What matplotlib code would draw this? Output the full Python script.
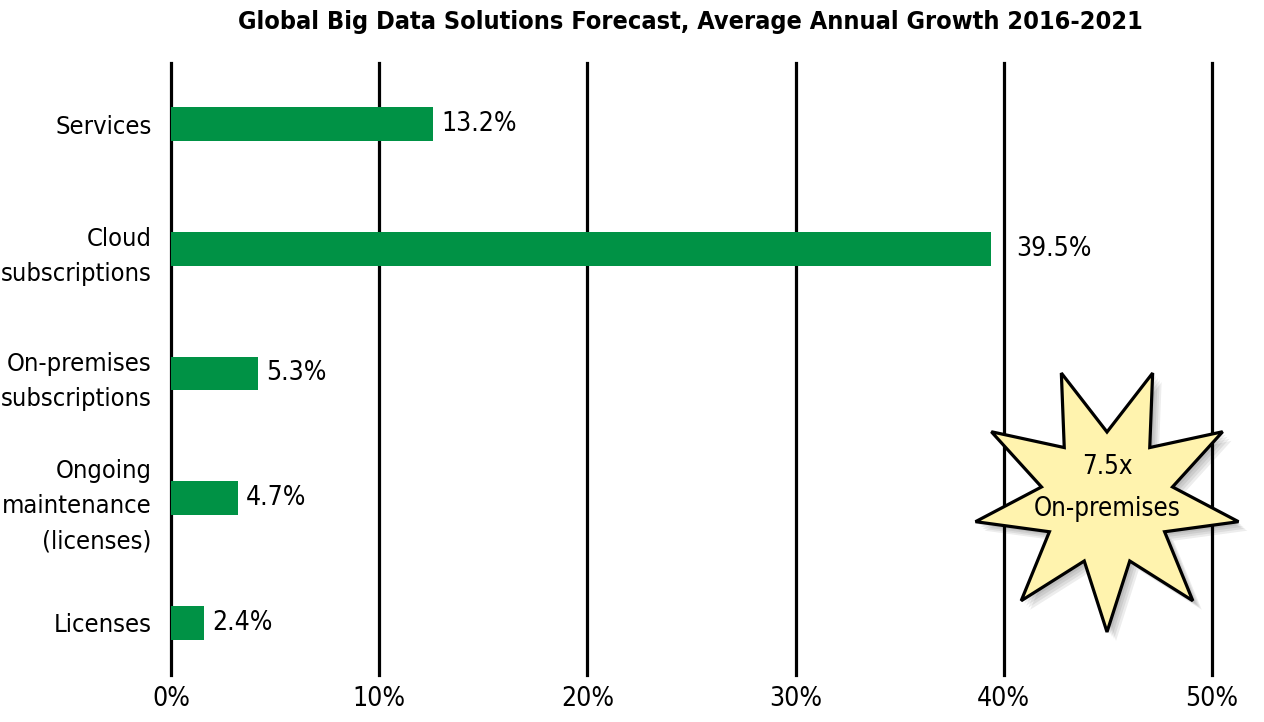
import numpy as np
import matplotlib
matplotlib.use("Agg")
import matplotlib.pyplot as plt
from matplotlib.patches import Polygon

plt.rcParams['font.family'] = ['DejaVu Sans']
plt.rcParams['font.stretch'] = 'condensed'

# data (bar lengths as drawn, labels as printed)
categories = ["Services", "Cloud\nsubscriptions", "On-premises\nsubscriptions",
              "Ongoing\nmaintenance\n(licenses)", "Licenses"]
bar_values = [12.6, 39.4, 4.2, 3.2, 1.6]
value_labels = ["13.2%", "39.5%", "5.3%", "4.7%", "2.4%"]
label_gaps = [8, 25, 8, 8, 8]  # px between bar end and label
xticks = [0, 10, 20, 30, 40, 50]
xtick_labels = ["0%", "10%", "20%", "30%", "40%", "50%"]
callout = "7.5x\nOn-premises"

W, H = 1264, 722
fig = plt.figure(figsize=(W / 100, H / 100), dpi=100)
ax = fig.add_axes([171 / W, 47 / H, 1041 / W, 612 / H])

green = "#009245"
y = np.arange(len(categories))
ax.barh(y, bar_values, height=0.27, color=green, zorder=2)

for v in xticks:
    ax.axvline(v, color="black", lw=2.3, zorder=1, clip_on=False)

for yi, v, lab, gap in zip(y, bar_values, value_labels, label_gaps):
    ax.annotate(lab, (v, yi), xytext=(gap * 0.72, 0), textcoords="offset points",
                ha="left", va="center", fontsize=19)

ax.set_xlim(0, 50)
ax.set_ylim(4.417, -0.489)
ax.set_xticks(xticks)
ax.set_xticklabels(xtick_labels, fontsize=19)
ax.set_yticks(y)
ax.set_yticklabels(categories, fontsize=18.3, linespacing=1.58)
ax.tick_params(length=0)
ax.tick_params(axis="y", pad=14)
ax.tick_params(axis="x", pad=8)
for s in ax.spines.values():
    s.set_visible(False)

fig.text(690 / W, 1 - 22 / H, "Global Big Data Solutions Forecast, Average Annual Growth 2016-2021",
         ha="center", va="center", fontsize=18.1, fontweight="bold")

# nine-point star callout (pixel geometry, y measured downward)
cx, cy, R, r = 1107, 498.5, 133.5, 66.5
n = 9
pts = []
for k in range(2 * n):
    ang = np.pi * k / n  # 0 = pointing down
    rad = R if k % 2 == 0 else r
    pts.append((cx + rad * np.sin(ang), cy + rad * np.cos(ang)))
pts = np.array(pts)

def to_fig(p, dx=0, dy=0):
    return np.column_stack(((p[:, 0] + dx) / W, 1 - (p[:, 1] + dy) / H))

for off in [9, 7, 5, 3]:
    fig.add_artist(Polygon(to_fig(pts, off, off), closed=True, transform=fig.transFigure,
                           facecolor="black", edgecolor="none", alpha=0.07, zorder=5))
fig.add_artist(Polygon(to_fig(pts), closed=True, transform=fig.transFigure,
                       facecolor="#FFF3AE", edgecolor="black", lw=2.3, joinstyle="miter", zorder=6))
fig.text(cx / W, 1 - 488 / H, callout, ha="center", va="center", fontsize=18.5,
         linespacing=1.75, zorder=7)

fig.savefig("out.png", dpi=100)
